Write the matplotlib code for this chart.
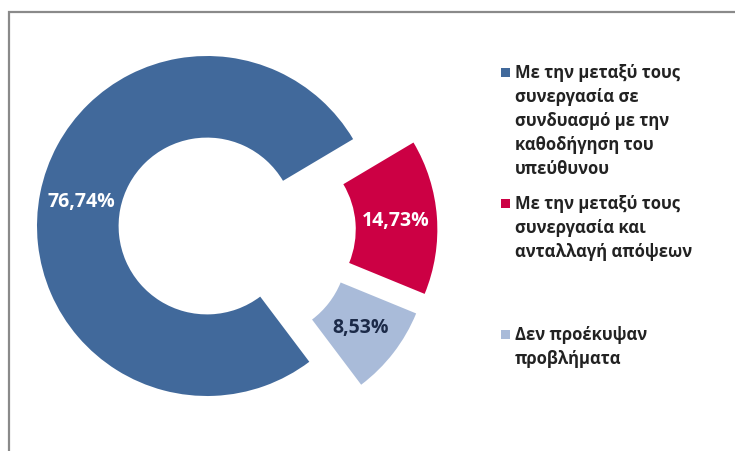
import numpy as np
import matplotlib
matplotlib.use("Agg")
import matplotlib.pyplot as plt
from matplotlib import font_manager
from matplotlib.patches import Rectangle

# pick a family that actually ships a bold face
bold_family = 'DejaVu Sans'
for name in ['Open Sans', 'Noto Sans', 'Roboto', 'Liberation Sans']:
    faces = [f for f in font_manager.fontManager.ttflist if f.name == name]
    if any(f.weight in ('bold', 700) for f in faces) or \
            any('Bold' in f.fname for f in faces):
        bold_family = name
        break

plt.rcParams['font.family'] = [bold_family, 'DejaVu Sans']

# data
labels = [
    "Με την μεταξύ τους\nσυνεργασία σε\nσυνδυασμό με την\nκαθοδήγηση του\nυπεύθυνου",
    "Με την μεταξύ τους\nσυνεργασία και\nανταλλαγή απόψεων",
    "Δεν προέκυψαν\nπροβλήματα",
]
values = [76.74, 14.73, 8.53]
colors = ['#41699b', '#cc0044', '#a9bbd9']
pct_colors = ['white', 'white', '#1c2a48']

# layout (pixels)
W, H = 735, 452
R_PX = 170.0
CX, CY = 207, 227
shifts = [(0.0, 0.0), (0.355, -0.02), (0.305, -0.135)]  # explode offsets, radius units
legend_baselines = [78, 209, 340]
line_pitch = 24


def fx(x):
    return x / W


def fy(y):
    return 1 - y / H


fig = plt.figure(figsize=(W / 100, H / 100), dpi=100)
ax = fig.add_axes([0, 0, 1, 1])

wedges, _ = ax.pie(values, colors=colors, startangle=307, counterclock=False,
                   radius=1.0, wedgeprops=dict(width=0.48, linewidth=0))

for w, (dx, dy), v, tc in zip(wedges, shifts, values, pct_colors):
    w.set_center((dx, dy))
    mid = np.deg2rad((w.theta1 + w.theta2) / 2)
    ax.text(dx + 0.755 * np.cos(mid), dy + 0.755 * np.sin(mid),
            f"{v:.2f}%".replace('.', ','), color=tc, fontsize=14,
            fontweight='bold', ha='center', va='center')

ax.set_xlim(-CX / R_PX, (W - CX) / R_PX)
ax.set_ylim(-(H - CY) / R_PX, CY / R_PX)
ax.set_aspect('auto')
ax.axis('off')

# legend drawn by hand to follow the spacing of the original
for lab, col, base in zip(labels, colors, legend_baselines):
    fig.add_artist(Rectangle((fx(501), fy(base)), 9 / W, 9 / H,
                             transform=fig.transFigure, facecolor=col,
                             edgecolor='none'))
    for k, line in enumerate(lab.split('\n')):
        fig.text(fx(515), fy(base + k * line_pitch), line, fontsize=12,
                 fontweight='bold', color='#222222', ha='left', va='baseline')

# chart-area border (only the top and left edges are visible)
fig.add_artist(Rectangle((fx(9), -0.2), 2.0, 1.2 - 12.5 / H,
                         transform=fig.transFigure, facecolor='none',
                         edgecolor='#8a8a8a', linewidth=1.6))

fig.savefig("out.png", dpi=100)
